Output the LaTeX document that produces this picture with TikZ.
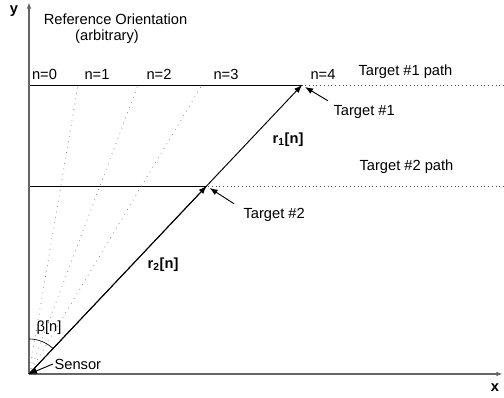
\documentclass[tikz,border=0pt]{standalone}
\usepackage{fontspec}
\setmainfont{Liberation Sans}
\usepackage{tikz}
\usetikzlibrary{arrows.meta,calc}

\begin{document}
\begin{tikzpicture}[x=0.75pt,y=0.75pt,>={Latex[length=6pt,width=4.5pt]},
  font=\fontsize{11}{13}\selectfont,
  axis/.style={-{Latex[length=5pt,width=3.5pt]},black!60,line width=1.1pt},
  vec/.style={->,line width=0.7pt},
  ptr/.style={->,line width=0.7pt},
  trail/.style={black!70,dash pattern=on 0.6pt off 2.2pt,line width=0.6pt},
  ray/.style={black!45,dash pattern=on 0.6pt off 3.5pt,line width=0.6pt},
  lbl/.style={inner sep=1pt},
  bold/.style={lbl,font=\fontsize{11}{13}\selectfont\bfseries}]
\useasboundingbox (0,0) rectangle (504,398);

\coordinate (O) at (29,24);
\coordinate (tA) at (302,313);
\coordinate (tB) at (206.6,212);

% paths of the two targets
\draw[trail] (29,313) -- (504,313);
\draw[trail] (29,212) -- (504,212);
\draw[line width=0.7pt] (29,313) -- (tA);
\draw[line width=0.7pt] (29,212) -- (tB);

% lines of sight for n=0..4
\foreach \px/\n/\lx in {29/0/44.5,78/1/97,138/2/159,202/3/226,302/4/323}{
  \draw[ray] (O) -- (\px,313);
  \node[lbl] (n\n) at (\lx,324) {n=\n};
}

% axes
\draw[axis] (O) -- (29,396);
\draw[axis] (O) -- (503,24);
\node[bold] (ylbl) at (14,387) {y};
\node[bold] (xlbl) at (495,10) {x};
\node[lbl] (refA) at (115.5,379) {Reference Orientation};
\node[lbl] (refB) at (107,361) {(arbitrary)};

% range vectors
\draw[vec] (O) -- (tA);
\draw[vec] (O) -- (tB);
\node[bold] (rA) at (288,258) {r$_{\mathbf 1}$[n]};
\node[bold] (rB) at (163,133) {r$_{\mathbf 2}$[n]};

% angle
\draw[line width=0.5pt] ($(O)+(0,35)$) arc (90:46.6:35);
\node[lbl] (beta) at (49,70) {β[n]};

% labels with pointers
\node[lbl,anchor=west] (pathA) at (357,326) {Target \#1 path};
\node[lbl,anchor=west] (pathB) at (358,231) {Target \#2 path};
\node[lbl,anchor=west] (tgtA) at (332,286) {Target \#1};
\node[lbl,anchor=west] (tgtB) at (242,183) {Target \#2};
\node[lbl,anchor=west] (sensor) at (53,34) {Sensor};
\draw[ptr] ($(tgtA.north west)+(-4,3)$) -- ($(tA)+(3,-2)$);
\draw[ptr] ($(tgtB.north west)+(-8,3)$) -- ($(tB)+(3,-2)$);
\draw[ptr] (sensor.west) -- (O);
\end{tikzpicture}
\end{document}
